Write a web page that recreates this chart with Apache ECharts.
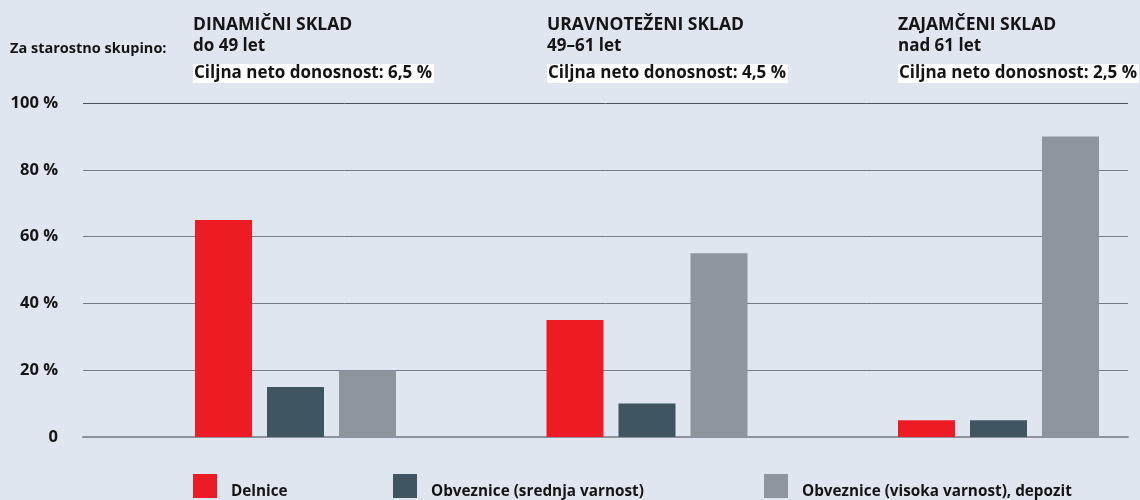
<!DOCTYPE html>
<html>
<head>
<meta charset="utf-8">
<script src="https://cdn.jsdelivr.net/npm/echarts@6/dist/echarts.min.js"></script>
<style>
  html, body { margin: 0; padding: 0; background: #dfe6f0; }
  #chart { width: 1140px; height: 500px; }
</style>
</head>
<body>
<div id="chart"></div>
<script>
// skladi (kategorije)
const funds = ['DINAMIČNI SKLAD', 'URAVNOTEŽENI SKLAD', 'ZAJAMČENI SKLAD']
const ageGroups = ['do 49 let', '49–61 let', 'nad 61 let']
const targetReturns = ['Ciljna neto donosnost: 6,5 %', 'Ciljna neto donosnost: 4,5 %', 'Ciljna neto donosnost: 2,5 %']
const fundLeft = [193, 547, 898]

// serije
const seriesNames = ['Delnice', 'Obveznice (srednja varnost)', 'Obveznice (visoka varnost), depozit']
const delnice = [65, 35, 5]
const obvSrednja = [15, 10, 5]
const obvVisoka = [20, 55, 90]
const colors = ['#ed1c24', '#3f5560', '#8e959d']
const legendLeft = [193, 393, 764]

// y os
const yTickLabels = ['0', '20 %', '40 %', '60 %', '80 %', '100 %']

const font = 'Open Sans'
const txt = '#141414'

let chart = echarts.init(document.getElementById('chart'))

let titles = [{
    text: 'Za starostno skupino:',
    left: 10, top: 41, padding: 0,
    textStyle: { fontFamily: font, fontSize: 14.5, fontWeight: 'bold', color: txt }
}]
funds.forEach((f, i) => {
    titles.push({
        text: f, left: fundLeft[i], top: 16, padding: 0,
        textStyle: { fontFamily: font, fontSize: 17.5, fontWeight: 'bold', color: txt }
    })
    titles.push({
        text: ageGroups[i], left: fundLeft[i], top: 38, padding: 0,
        textStyle: { fontFamily: font, fontSize: 17, fontWeight: 'bold', color: txt }
    })
    titles.push({
        text: targetReturns[i], left: fundLeft[i], top: 64, padding: [1, 2, 1, 1],
        backgroundColor: '#ffffff',
        textStyle: { fontFamily: font, fontSize: 17, fontWeight: 'bold', color: txt }
    })
})

let legends = seriesNames.map((n, i) => ({
    data: [n],
    left: legendLeft[i],
    top: 474,
    padding: 0,
    itemWidth: 24,
    itemHeight: 24,
    icon: 'rect',
    selectedMode: false,
    formatter: '{a|{name}}',
    textStyle: {
        rich: {
            a: { fontFamily: font, fontSize: 15.3, fontWeight: 'bold', color: txt, padding: [12, 0, 0, 9] }
        }
    }
}))

const values = [delnice, obvSrednja, obvVisoka]

let option = {
    backgroundColor: '#dfe6f0',
    animation: false,
    title: titles,
    legend: legends,
    grid: [
        { left: 83, right: 12, top: 103, bottom: 63, outerBoundsMode: 'none' },
        { left: 119.75, width: 1054.5, top: 103, bottom: 63, outerBoundsMode: 'none' }
    ],
    xAxis: [
        {
            type: 'category', gridIndex: 0, data: funds,
            axisTick: { show: false },
            axisLabel: { show: false },
            axisLine: { lineStyle: { color: '#8c939a', width: 2 } }
        },
        {
            type: 'category', gridIndex: 1, data: funds, show: false
        }
    ],
    yAxis: [
        {
            type: 'value', gridIndex: 0, min: 0, max: 100, interval: 20,
            axisLine: { show: false },
            axisTick: { show: false },
            axisLabel: {
                margin: 25,
                fontFamily: font, fontSize: 16.5, fontWeight: 'bold', color: txt,
                formatter: (v) => yTickLabels[Math.round(v / 20)]
            },
            splitLine: {
                lineStyle: { color: ['#8c939a', '#737a80', '#737a80', '#737a80', '#737a80', '#4f555b'], width: 1 }
            }
        },
        { type: 'value', gridIndex: 1, min: 0, max: 100, show: false }
    ],
    series: seriesNames.map((n, i) => ({
        name: n,
        type: 'bar',
        xAxisIndex: 1,
        yAxisIndex: 1,
        barWidth: 57,
        barGap: '26.3%',
        itemStyle: { color: colors[i] },
        data: values[i]
    }))
}

chart.setOption(option)
window.addEventListener('resize', () => { chart.resize() })
</script>
</body>
</html>
